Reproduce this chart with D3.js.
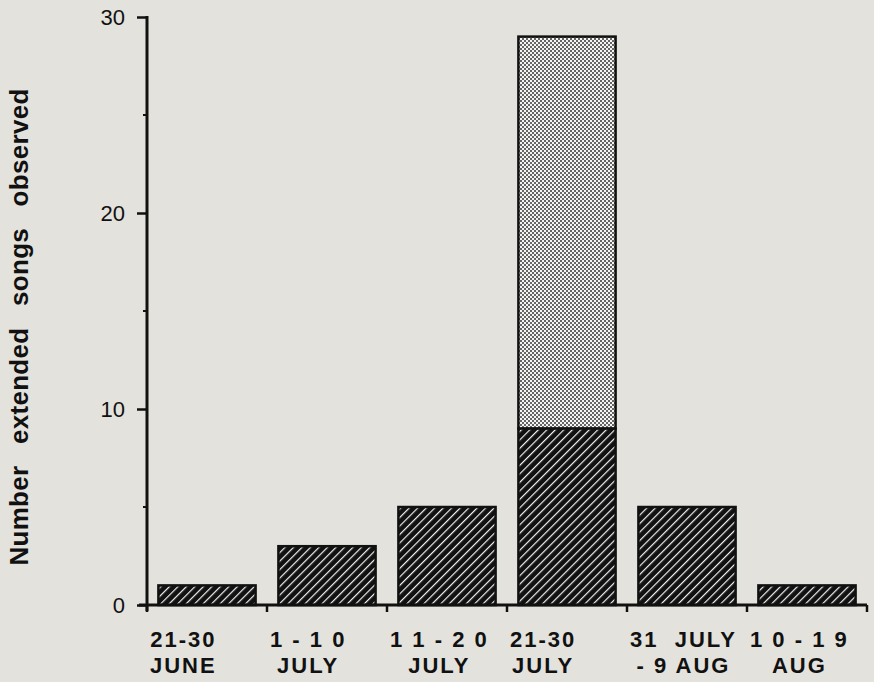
<!DOCTYPE html>
<html>
<head>
<meta charset="utf-8">
<script src="https://cdn.jsdelivr.net/npm/d3@7"></script>
<style>
  html, body { margin: 0; padding: 0; background: #e4e2dd; }
  svg { display: block; }
</style>
</head>
<body>
<svg id="chart" width="874" height="682"></svg>
<script>
// ---- data ----
const categories = ["21-30 JUNE", "1-10 JULY", "11-20 JULY", "21-30 JULY", "31 JULY - 9 AUG", "10-19 AUG"];
const labelLine1 = ["21-30", "1 - 1 0", "1 1 - 2 0", "21-30", "31  JULY", "1 0 - 1 9"];
const labelLine2 = ["JUNE", "JULY", "JULY", "JULY", "- 9 AUG", "AUG"];
const hatchedValues = [1, 3, 5, 9, 5, 1];
const stippledValues = [0, 0, 0, 20, 0, 0];
const yMajorTicks = [0, 10, 20, 30];
const yMinorTicks = [5, 15, 25];
const yTitle = "Number extended songs observed";

// ---- layout ----
const svg = d3.select("#chart");
const plotLeft = 147, plotRight = 867, plotTop = 17, plotBottom = 605;

const x = d3.scaleBand().domain(categories).range([plotLeft, plotRight])
  .paddingInner(0.19).paddingOuter(0.095);
const y = d3.scaleLinear().domain([0, 30]).range([plotBottom, plotTop]);

// patterns
const defs = svg.append("defs");
const hatch = defs.append("pattern").attr("id", "hatch")
  .attr("patternUnits", "userSpaceOnUse").attr("width", 6).attr("height", 6)
  .attr("patternTransform", "rotate(45)");
hatch.append("rect").attr("width", 6).attr("height", 6).attr("fill", "#111");
hatch.append("rect").attr("x", 0).attr("y", 0).attr("width", 1.2).attr("height", 6).attr("fill", "#f2f2f2");

const stip = defs.append("pattern").attr("id", "stipple")
  .attr("patternUnits", "userSpaceOnUse").attr("width", 4).attr("height", 4);
stip.append("rect").attr("width", 4).attr("height", 4).attr("fill", "#f4f4f2");
stip.append("rect").attr("x", 0).attr("y", 0).attr("width", 2).attr("height", 2).attr("fill", "#666");
stip.append("rect").attr("x", 2).attr("y", 2).attr("width", 2).attr("height", 2).attr("fill", "#666");

const rows = categories.map((c, i) => ({ cat: c, h: hatchedValues[i], s: stippledValues[i] }));

// stippled (upper) segments
svg.append("g").selectAll("rect").data(rows.filter(d => d.s > 0)).join("rect")
  .attr("x", d => x(d.cat))
  .attr("width", x.bandwidth())
  .attr("y", d => y(d.h + d.s))
  .attr("height", d => y(d.h) - y(d.h + d.s))
  .attr("fill", "url(#stipple)")
  .attr("stroke", "#111").attr("stroke-width", 2.5);

// hatched segments
svg.append("g").selectAll("rect").data(rows).join("rect")
  .attr("x", d => x(d.cat))
  .attr("width", x.bandwidth())
  .attr("y", d => y(d.h))
  .attr("height", d => y(0) - y(d.h))
  .attr("fill", "url(#hatch)")
  .attr("stroke", "#111").attr("stroke-width", 2.5);

// y axis
const yAxis = d3.axisLeft(y).tickValues(yMajorTicks).tickSize(10).tickPadding(12).tickFormat(d3.format("d"));
const gy = svg.append("g").attr("transform", `translate(${plotLeft},0)`).call(yAxis);
gy.select(".domain").remove();
gy.selectAll(".tick line").attr("stroke", "#111").attr("stroke-width", 2.5);
gy.selectAll(".tick text").attr("font-family", "Liberation Sans, Arial, sans-serif")
  .attr("font-size", 22).attr("fill", "#111");
svg.append("line").attr("x1", plotLeft).attr("x2", plotLeft).attr("y1", y(30) - 1).attr("y2", y(0) + 6)
  .attr("stroke", "#111").attr("stroke-width", 3);
svg.append("g").selectAll("line").data(yMinorTicks).join("line")
  .attr("x1", plotLeft - 4).attr("x2", plotLeft).attr("y1", d => y(d)).attr("y2", d => y(d))
  .attr("stroke", "#111").attr("stroke-width", 2);

// x axis
svg.append("line").attr("x1", plotLeft - 8).attr("x2", plotRight).attr("y1", y(0)).attr("y2", y(0))
  .attr("stroke", "#111").attr("stroke-width", 3);
const step = x.step();
const bounds = categories.map(c => x(c) - step * x.paddingInner() / 2).concat([plotRight]);
svg.append("g").selectAll("line").data(bounds).join("line")
  .attr("x1", d => d).attr("x2", d => d).attr("y1", y(0)).attr("y2", y(0) + 7)
  .attr("stroke", "#111").attr("stroke-width", 2.5);

// category labels
const lg = svg.append("g").attr("font-family", "Liberation Sans, Arial, sans-serif")
  .attr("font-weight", "bold").attr("font-size", 22).attr("fill", "#111")
  .style("letter-spacing", "2px").style("white-space", "pre");
categories.forEach((c, i) => {
  const g = lg.append("g");
  const t1 = g.append("text").attr("y", 647).attr("xml:space", "preserve").text(labelLine1[i]);
  const t2 = g.append("text").attr("y", 673).attr("xml:space", "preserve").text(labelLine2[i]);
  const w = Math.max(t1.node().getComputedTextLength(), t2.node().getComputedTextLength());
  const cx = bounds[i] + 3 + w / 2;
  t1.attr("x", cx).attr("text-anchor", "middle");
  t2.attr("x", cx).attr("text-anchor", "middle");
});

// y title
svg.append("text")
  .attr("transform", "translate(28,327) rotate(-90)")
  .attr("text-anchor", "middle")
  .attr("font-family", "Liberation Sans, Arial, sans-serif")
  .attr("font-weight", "bold").attr("font-size", 26).attr("fill", "#111")
  .style("letter-spacing", "0.3px").style("word-spacing", "14px")
  .text(yTitle);
</script>
</body>
</html>
